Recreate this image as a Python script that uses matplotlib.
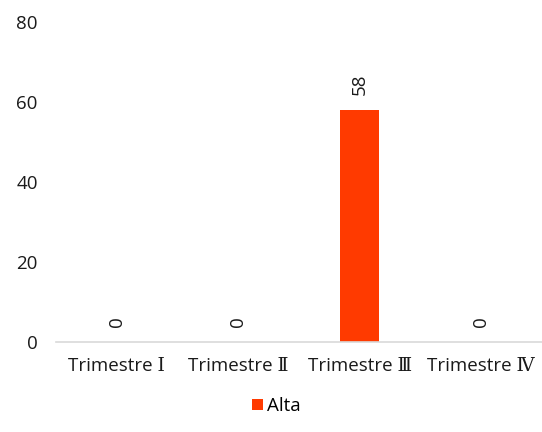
import numpy as np
import matplotlib.pyplot as plt

categorias = ['Trimestre \u2160', 'Trimestre \u2161', 'Trimestre \u2162', 'Trimestre \u2163']
alta = [0, 0, 58, 0]
yticks = [0, 20, 40, 60, 80]

plt.rcParams['font.family'] = ['Open Sans', 'DejaVu Serif']

fig = plt.figure(figsize=(5.42, 4.32), dpi=100)
ax = fig.add_axes([0.103, 0.208, 0.897, 0.741])

x = np.arange(len(categorias))
bars = ax.bar(x, alta, width=0.32, color='#FF3A00', label='Alta')

for xi, v in zip(x, alta):
    ax.annotate(str(v), (xi, v), xytext=(0, 15), textcoords='offset pixels',
                rotation=90, ha='center', va='bottom', fontsize=13.5, color='#1a1a1a')

ax.set_xlim(-0.5, 3.5)
ax.set_ylim(0, 80)
ax.set_yticks(yticks)
ax.set_xticks(x)
ax.set_xticklabels(categorias)
ax.tick_params(axis='both', length=0, labelsize=13.5, colors='#1a1a1a')
ax.tick_params(axis='x', pad=11)
ax.tick_params(axis='y', pad=13)
for s in ['top', 'right', 'left']:
    ax.spines[s].set_visible(False)
ax.spines['bottom'].set_color('#d9d9d9')
ax.spines['bottom'].set_linewidth(1.2)

fig.legend(loc='lower center', bbox_to_anchor=(0.51, 0.0), frameon=False, fontsize=13.5,
           handlelength=0.6, handleheight=0.6, handletextpad=0.2)

fig.savefig('out.png', dpi=100)
